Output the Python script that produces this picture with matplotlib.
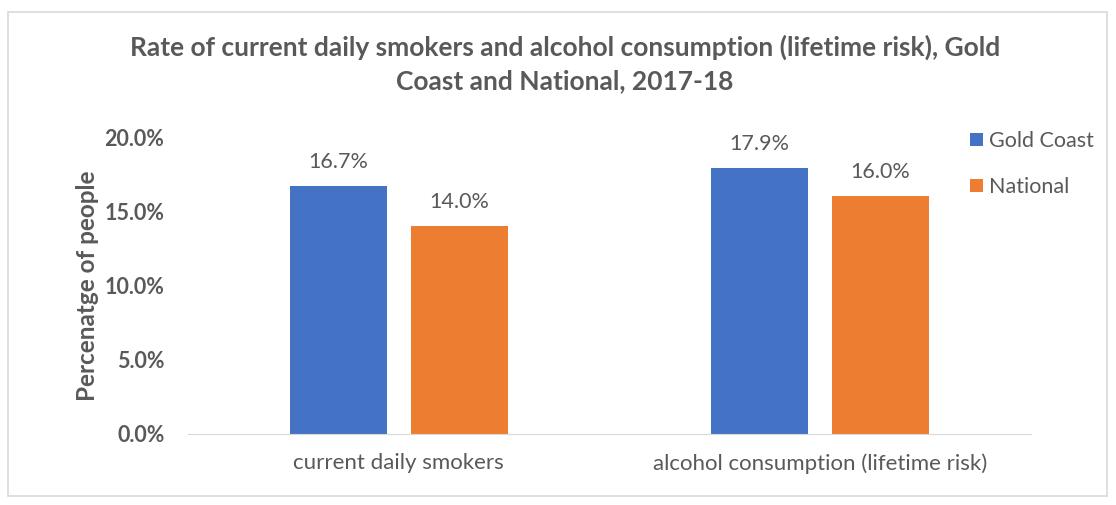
import numpy as np
import matplotlib.pyplot as plt
from matplotlib.patches import Rectangle

categories = ["current daily smokers", "alcohol consumption (lifetime risk)"]
gold_coast = [16.7, 17.9]
national = [14.0, 16.0]
series_names = ["Gold Coast", "National"]
yticks = [0, 5, 10, 15, 20]

plt.rcParams['font.family'] = ['Lato', 'DejaVu Sans']
text_col = '#595959'

fig = plt.figure(figsize=(11.16, 5.05), dpi=100)
fig.patches.append(Rectangle((8 / 1116, 1 - 496 / 505), 1099 / 1116, 484 / 505,
                             transform=fig.transFigure, fill=False,
                             edgecolor='#d9d9d9', linewidth=1.2))

ax = fig.add_axes([0.1685, 0.1406, 0.755, 0.5881])
x = np.arange(len(categories))
w = 0.23
off = 0.1435
b1 = ax.bar(x - off, gold_coast, w, color='#4472C4', label=series_names[0])
b2 = ax.bar(x + off, national, w, color='#ED7D31', label=series_names[1])

for bars, vals in ((b1, gold_coast), (b2, national)):
    for b, v in zip(bars, vals):
        ax.text(b.get_x() + b.get_width() / 2, v + 1.65, f"{v:.1f}%",
                ha='center', va='center', fontsize=15.5, color=text_col)

ax.set_xlim(-0.5, 1.5)
ax.set_ylim(0, 20)
ax.set_yticks(yticks)
ax.set_yticklabels([f"{t:.1f}%" for t in yticks], fontsize=15.5,
                   color=text_col, fontweight='bold')
ax.set_xticks(x)
ax.set_xticklabels(categories, fontsize=16, color=text_col)
ax.tick_params(length=0)
ax.tick_params(axis='y', pad=17)
ax.tick_params(axis='x', pad=14)
for s in ('top', 'right', 'left'):
    ax.spines[s].set_visible(False)
ax.spines['bottom'].set_color('#d9d9d9')

ax.set_ylabel("Percenatge of people", fontsize=17.5, fontweight='bold',
              color=text_col, labelpad=4)

fig.text(0.506, 0.873, "Rate of current daily smokers and alcohol consumption (lifetime risk), Gold\nCoast and National, 2017-18",
         ha='center', va='center', fontsize=19, fontweight='bold', color=text_col,
         linespacing=1.45)

leg = ax.legend(loc='upper left', bbox_to_anchor=(0.905, 1.085), frameon=False,
                fontsize=15.5, handlelength=0.6, handleheight=0.6,
                handletextpad=0.3, labelspacing=1.2)
for t in leg.get_texts():
    t.set_color(text_col)

fig.savefig("out.png", dpi=100)
